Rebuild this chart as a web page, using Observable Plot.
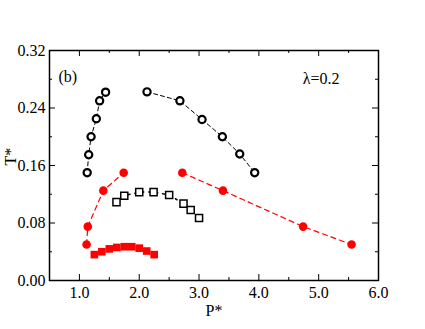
<!DOCTYPE html>
<html><head><meta charset="utf-8">
<script src="https://cdn.jsdelivr.net/npm/d3@7"></script>
<script src="https://cdn.jsdelivr.net/npm/@observablehq/plot@0.6"></script>
<style>body{margin:0;background:#fff}</style>
</head><body><div id="chart"></div>
<script>
// Open black circles (two branches)
const circLeftP = [1.13, 1.155, 1.195, 1.283, 1.338, 1.438];
const circLeftT = [0.150, 0.175, 0.200, 0.225, 0.250, 0.262];
const circRightP = [2.13, 2.68, 3.05, 3.39, 3.68, 3.93];
const circRightT = [0.2625, 0.250, 0.224, 0.200, 0.176, 0.150];
// Red filled circles (two branches)
const redLeftP = [1.12, 1.14, 1.40, 1.74];
const redLeftT = [0.050, 0.075, 0.125, 0.150];
const redRightP = [2.72, 3.40, 4.74, 5.55];
const redRightT = [0.150, 0.125, 0.075, 0.050];
// Open black squares
const sqP = [1.62, 1.75, 2.0, 2.24, 2.5, 2.74, 2.86, 3.0];
const sqT = [0.109, 0.118, 0.123, 0.123, 0.119, 0.107, 0.098, 0.087];
// Red filled squares
const rsqP = [1.25, 1.375, 1.5, 1.625, 1.75, 1.875, 2.0, 2.125, 2.25];
const rsqT = [0.036, 0.040, 0.044, 0.046, 0.047, 0.047, 0.045, 0.041, 0.036];
// Ticks
const xMajor = [1, 2, 3, 4, 5, 6];
const xMinor = [1.5, 2.5, 3.5, 4.5, 5.5];
const yMajor = [0, 0.08, 0.16, 0.24, 0.32];
const yMinor = [0.04, 0.12, 0.20, 0.28];
const xLabels = ["1.0", "2.0", "3.0", "4.0", "5.0", "6.0"];
const yLabels = ["0.00", "0.08", "0.16", "0.24", "0.32"];

const zip = (a, b) => a.map((v, i) => ({P: v, T: b[i]}));
const W = 425, H = 329, mL = 49, mR = 47, mT = 50, mB = 49;
const iw = W - mL - mR, ih = H - mT - mB;
const font = "'Liberation Serif', 'Times New Roman', serif";

const chart = Plot.plot({
  width: W, height: H,
  marginLeft: mL, marginRight: mR, marginTop: mT, marginBottom: mB,
  style: {fontFamily: font, background: "#fff"},
  x: {domain: [0.5, 6.0]},
  y: {domain: [0, 0.32]},
  marks: [
    // inward ticks on all four sides
    Plot.tickX(xMajor, {x: d => d, insetTop: ih - 6, stroke: "black"}),
    Plot.tickX(xMajor, {x: d => d, insetBottom: ih - 6, stroke: "black"}),
    Plot.tickX(xMinor, {x: d => d, insetTop: ih - 3, stroke: "black"}),
    Plot.tickX(xMinor, {x: d => d, insetBottom: ih - 3, stroke: "black"}),
    Plot.tickY(yMajor, {y: d => d, insetRight: iw - 6, stroke: "black"}),
    Plot.tickY(yMajor, {y: d => d, insetLeft: iw - 6, stroke: "black"}),
    Plot.tickY(yMinor, {y: d => d, insetRight: iw - 3, stroke: "black"}),
    Plot.tickY(yMinor, {y: d => d, insetLeft: iw - 3, stroke: "black"}),
    Plot.axisX(xMajor, {tickSize: 0, tickPadding: 6, tickFormat: (d, i) => xLabels[i], fontSize: 16, fontFamily: font, label: null}),
    Plot.axisY(yMajor, {tickSize: 0, tickPadding: 4, tickFormat: (d, i) => yLabels[i], fontSize: 16, fontFamily: font, label: null}),
    Plot.text(["P*"], {frameAnchor: "bottom", dy: 35, fontSize: 16, fontFamily: font, text: d => d}),
    Plot.text(["T*"], {frameAnchor: "left", dx: -39, rotate: -90, fontSize: 16, fontFamily: font, text: d => d}),
    Plot.text(["(b)"], {frameAnchor: "top-left", dx: 9, dy: 20, textAnchor: "start", fontSize: 16, fontFamily: font, text: d => d}),
    Plot.text(["λ=0.2"], {frameAnchor: "top-right", dx: -39, dy: 22, textAnchor: "end", fontSize: 16, fontFamily: font, text: d => d}),
    // lines
    Plot.line(zip(circLeftP, circLeftT), {x: "P", y: "T", stroke: "black", strokeWidth: 1, strokeDasharray: "4,3"}),
    Plot.line(zip(circRightP, circRightT), {x: "P", y: "T", stroke: "black", strokeWidth: 1, strokeDasharray: "4,3"}),
    Plot.line(zip(redLeftP, redLeftT), {x: "P", y: "T", stroke: "red", strokeWidth: 1.2, strokeDasharray: "5,4"}),
    Plot.line(zip(redRightP, redRightT), {x: "P", y: "T", stroke: "red", strokeWidth: 1.2, strokeDasharray: "5,4"}),
    Plot.line(zip(sqP, sqT), {x: "P", y: "T", stroke: "black", strokeWidth: 1.5, strokeDasharray: "2,5"}),
    // markers
    Plot.dot(zip(rsqP, rsqT), {x: "P", y: "T", symbol: "square", r: 4.3, fill: "red", stroke: "none"}),
    Plot.dot(zip(sqP, sqT), {x: "P", y: "T", symbol: "square", r: 4, fill: "white", stroke: "black", strokeWidth: 1.5}),
    Plot.dot(zip(redLeftP, redLeftT), {x: "P", y: "T", r: 4.3, fill: "red", stroke: "none"}),
    Plot.dot(zip(redRightP, redRightT), {x: "P", y: "T", r: 4.3, fill: "red", stroke: "none"}),
    Plot.dot(zip(circLeftP, circLeftT), {x: "P", y: "T", r: 3.6, fill: "white", stroke: "black", strokeWidth: 2.2}),
    Plot.dot(zip(circRightP, circRightT), {x: "P", y: "T", r: 3.6, fill: "white", stroke: "black", strokeWidth: 2.2}),
    Plot.frame({stroke: "black", strokeWidth: 1.5})
  ]
});
document.getElementById("chart").append(chart);
</script>
</body></html>
